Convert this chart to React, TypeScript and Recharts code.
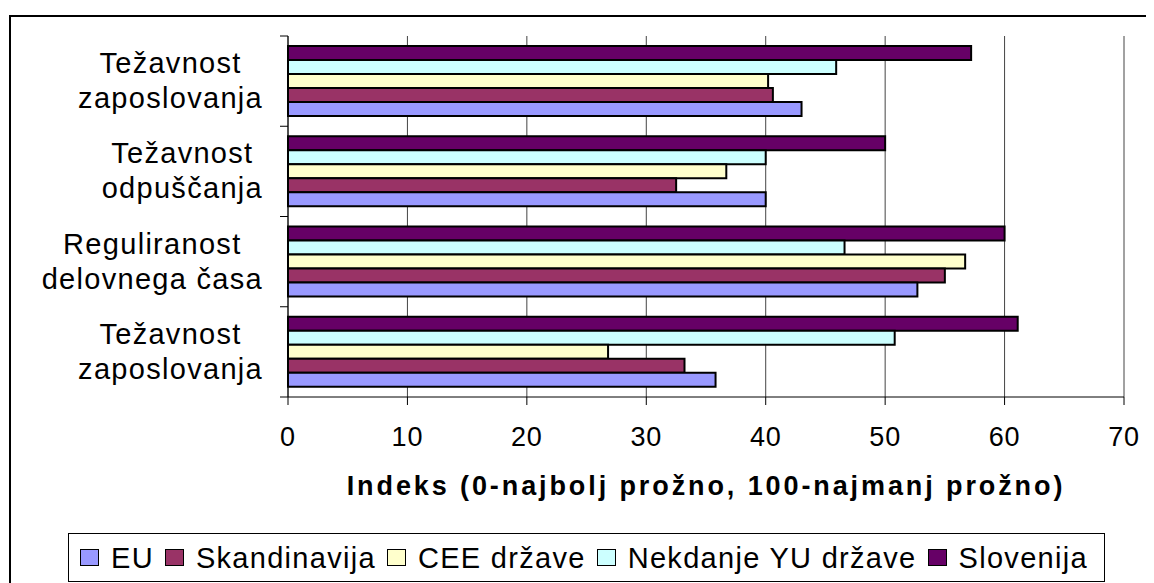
import React from 'react';
import { BarChart, Bar, XAxis, YAxis, CartesianGrid, Legend, Label } from 'recharts';

const categories = [
  'Težavnost zaposlovanja',
  'Težavnost odpuščanja',
  'Reguliranost delovnega časa',
  'Težavnost zaposlovanja',
];

const eu = [43.0, 40.0, 52.7, 35.8];
const skandinavija = [40.6, 32.5, 55.0, 33.2];
const ceeDrzave = [40.2, 36.7, 56.7, 26.8];
const nekdanjeYu = [45.9, 40.0, 46.6, 50.8];
const slovenija = [57.2, 50.0, 60.0, 61.1];

const xTicks = [0, 10, 20, 30, 40, 50, 60, 70];
const axisTitle = 'Indeks (0-najbolj prožno, 100-najmanj prožno)';

// legend order
const seriesKeys = ['eu', 'skandinavija', 'cee', 'nyu', 'slovenija'];
const seriesNames = ['EU', 'Skandinavija', 'CEE države', 'Nekdanje YU države', 'Slovenija'];
const seriesColors = ['#9999FF', '#993366', '#FFFFCC', '#CCFFFF', '#660066'];

const data = categories.map((c, i) => ({
  category: c,
  eu: eu[i],
  skandinavija: skandinavija[i],
  cee: ceeDrzave[i],
  nyu: nekdanjeYu[i],
  slovenija: slovenija[i],
}));

const FONT = '"Liberation Sans", Arial, sans-serif';
const CAT_SIZE = 29;
const CAT_SPACING = 1.3;

let canvasEl: HTMLCanvasElement | null = null;
function measure(text: string, size: number, spacing: number, weight = 'normal') {
  if (typeof document === 'undefined') return text.length * size * 0.55;
  if (!canvasEl) canvasEl = document.createElement('canvas');
  const ctx = canvasEl.getContext('2d');
  if (!ctx) return text.length * size * 0.55;
  ctx.font = `${weight} ${size}px "Liberation Sans"`;
  return ctx.measureText(text).width + text.length * spacing;
}

function splitLabel(s: string) {
  const i = s.indexOf(' ');
  return i < 0 ? [s] : [s.slice(0, i), s.slice(i + 1)];
}

const CategoryTick = (props: any) => {
  const { x, y, payload, index } = props;
  const half = typeof payload?.offset === 'number' && payload.offset > 0 ? payload.offset : 45;
  const label = categories[index] ?? String(payload?.value ?? '');
  const lines = splitLabel(label);
  const widths = lines.map((l) => measure(l, CAT_SIZE, CAT_SPACING));
  const maxW = Math.max(...widths);
  const right = x - 25;
  const cx = right - maxW / 2;
  return (
    <g>
      <line x1={x - 8} x2={x} y1={y - half} y2={y - half} stroke="#000" strokeWidth={1} />
      {index === categories.length - 1 && (
        <line x1={x - 8} x2={x} y1={y + half} y2={y + half} stroke="#000" strokeWidth={1} />
      )}
      <text
        textAnchor="middle"
        fontFamily={FONT}
        fontSize={CAT_SIZE}
        letterSpacing={CAT_SPACING}
        fill="#000"
      >
        <tspan x={cx} y={y - 8}>{lines[0]}</tspan>
        {lines[1] && <tspan x={cx} y={y + 27}>{lines[1]}</tspan>}
      </text>
    </g>
  );
};

const TitleLabel = (props: any) => {
  const vb = props.viewBox || { x: 280, y: 389, width: 836, height: 110 };
  return (
    <text
      x={vb.x + vb.width / 2}
      y={vb.y + 98}
      textAnchor="middle"
      fontFamily={FONT}
      fontSize={27}
      fontWeight="bold"
      letterSpacing={2.9}
      fill="#000"
    >
      {axisTitle}
    </text>
  );
};

const LegendContent = () => (
  <div
    style={{
      boxSizing: 'border-box',
      width: 1037,
      height: 49,
      border: '1px solid #000',
      display: 'flex',
      alignItems: 'center',
      paddingLeft: 11,
      fontFamily: FONT,
      fontSize: 29,
      letterSpacing: 1.3,
      color: '#000',
      whiteSpace: 'nowrap',
      background: '#fff',
    }}
  >
    {seriesNames.map((n, i) => (
      <div key={n} style={{ display: 'flex', alignItems: 'center', marginRight: 11 }}>
        <span
          style={{
            display: 'inline-block',
            boxSizing: 'border-box',
            width: 19,
            height: 17,
            background: seriesColors[i],
            border: '1.5px solid #000',
            marginRight: 12,
          }}
        />
        <span style={{ lineHeight: '30px' }}>{n}</span>
      </div>
    ))}
  </div>
);

// bars drawn top-to-bottom inside each band: Slovenija first, EU last
const drawOrder = [4, 3, 2, 1, 0];

export default function App() {
  return (
    <div style={{ position: 'relative', width: 1146, height: 575, overflow: 'hidden', background: '#fff' }}>
      <div
        style={{
          position: 'absolute',
          left: 1,
          top: 7,
          width: 1300,
          height: 800,
          borderTop: '2px solid #000',
          borderLeft: '2px solid #000',
        }}
      />
      <div style={{ position: 'absolute', left: 0, top: 0 }}>
        <BarChart
          width={1146}
          height={575}
          data={data}
          layout="vertical"
          margin={{ top: 28, right: 30, bottom: 76, left: 0 }}
          barCategoryGap={10}
          barGap={0}
        >
          <CartesianGrid horizontal={false} vertical={true} stroke="#444" strokeWidth={1} />
          <XAxis
            type="number"
            domain={[0, 70]}
            ticks={xTicks}
            interval={0}
            height={110}
            tickSize={8}
            tickMargin={22}
            axisLine={{ stroke: '#000', strokeWidth: 1 }}
            tickLine={{ stroke: '#000', strokeWidth: 1 }}
            tick={{ fontFamily: FONT, fontSize: 27, fill: '#000', letterSpacing: 0.8 } as any}
          >
            <Label content={<TitleLabel />} />
          </XAxis>
          <YAxis
            type="category"
            dataKey="category"
            width={280}
            interval={0}
            tickSize={0}
            tickMargin={0}
            tickLine={false}
            axisLine={{ stroke: '#000', strokeWidth: 1 }}
            tick={<CategoryTick />}
          />
          <Legend
            verticalAlign="middle"
            align="center"
            layout="horizontal"
            content={<LegendContent />}
            wrapperStyle={{ position: 'absolute', left: 60, top: 525, width: 1037, height: 49 }}
          />
          {drawOrder.map((i) => (
            <Bar
              key={seriesKeys[i]}
              dataKey={seriesKeys[i]}
              name={seriesNames[i]}
              fill={seriesColors[i]}
              stroke="#000"
              strokeWidth={2}
              isAnimationActive={false}
            />
          ))}
        </BarChart>
      </div>
    </div>
  );
}
